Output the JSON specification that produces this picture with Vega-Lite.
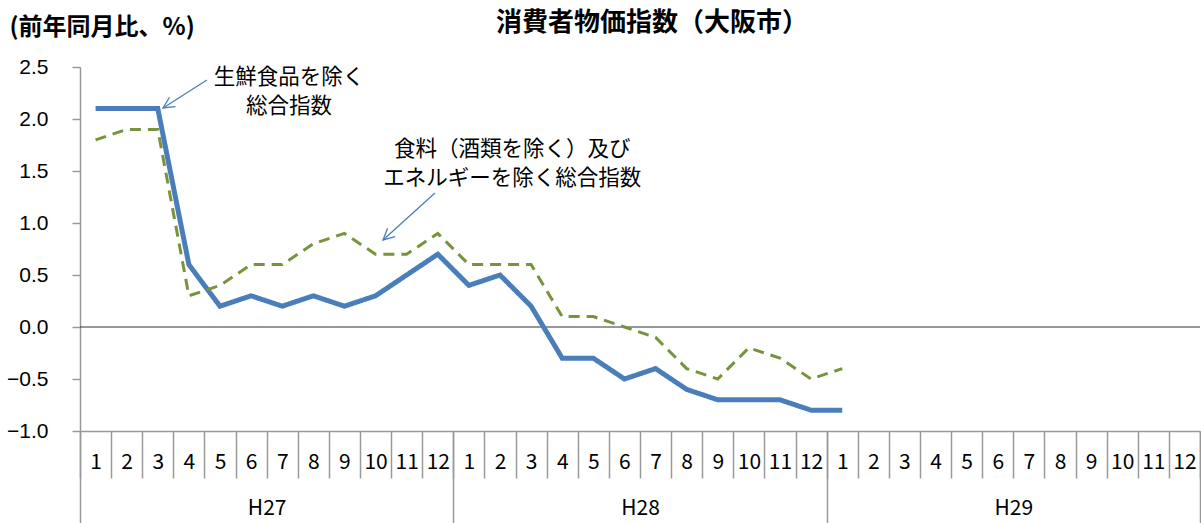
{
  "$schema": "https://vega.github.io/schema/vega-lite/v6.json",
  "autosize": "none",
  "width": 1120,
  "height": 364,
  "padding": {"left": 80, "top": 67, "right": 1, "bottom": 92},
  "background": "white",
  "config": {"view": {"stroke": null}, "font": "Noto Sans CJK JP"},
  "title": {
    "text": "消費者物価指数（大阪市）",
    "font": "Noto Sans CJK JP",
    "fontSize": 26,
    "fontWeight": "bold",
    "color": "#000000",
    "anchor": "middle",
    "frame": "group",
    "dx": 12,
    "offset": -21
  },
  "datasets": {
    "cpi": [
      {"n": 1, "year": "H27", "month": 1, "series": "生鮮食品を除く総合指数", "v": 2.1},
      {"n": 2, "year": "H27", "month": 2, "series": "生鮮食品を除く総合指数", "v": 2.1},
      {"n": 3, "year": "H27", "month": 3, "series": "生鮮食品を除く総合指数", "v": 2.1},
      {"n": 4, "year": "H27", "month": 4, "series": "生鮮食品を除く総合指数", "v": 0.6},
      {"n": 5, "year": "H27", "month": 5, "series": "生鮮食品を除く総合指数", "v": 0.2},
      {"n": 6, "year": "H27", "month": 6, "series": "生鮮食品を除く総合指数", "v": 0.3},
      {"n": 7, "year": "H27", "month": 7, "series": "生鮮食品を除く総合指数", "v": 0.2},
      {"n": 8, "year": "H27", "month": 8, "series": "生鮮食品を除く総合指数", "v": 0.3},
      {"n": 9, "year": "H27", "month": 9, "series": "生鮮食品を除く総合指数", "v": 0.2},
      {"n": 10, "year": "H27", "month": 10, "series": "生鮮食品を除く総合指数", "v": 0.3},
      {"n": 11, "year": "H27", "month": 11, "series": "生鮮食品を除く総合指数", "v": 0.5},
      {"n": 12, "year": "H27", "month": 12, "series": "生鮮食品を除く総合指数", "v": 0.7},
      {"n": 13, "year": "H28", "month": 1, "series": "生鮮食品を除く総合指数", "v": 0.4},
      {"n": 14, "year": "H28", "month": 2, "series": "生鮮食品を除く総合指数", "v": 0.5},
      {"n": 15, "year": "H28", "month": 3, "series": "生鮮食品を除く総合指数", "v": 0.2},
      {"n": 16, "year": "H28", "month": 4, "series": "生鮮食品を除く総合指数", "v": -0.3},
      {"n": 17, "year": "H28", "month": 5, "series": "生鮮食品を除く総合指数", "v": -0.3},
      {"n": 18, "year": "H28", "month": 6, "series": "生鮮食品を除く総合指数", "v": -0.5},
      {"n": 19, "year": "H28", "month": 7, "series": "生鮮食品を除く総合指数", "v": -0.4},
      {"n": 20, "year": "H28", "month": 8, "series": "生鮮食品を除く総合指数", "v": -0.6},
      {"n": 21, "year": "H28", "month": 9, "series": "生鮮食品を除く総合指数", "v": -0.7},
      {"n": 22, "year": "H28", "month": 10, "series": "生鮮食品を除く総合指数", "v": -0.7},
      {"n": 23, "year": "H28", "month": 11, "series": "生鮮食品を除く総合指数", "v": -0.7},
      {"n": 24, "year": "H28", "month": 12, "series": "生鮮食品を除く総合指数", "v": -0.8},
      {"n": 25, "year": "H29", "month": 1, "series": "生鮮食品を除く総合指数", "v": -0.8},
      {"n": 1, "year": "H27", "month": 1, "series": "食料（酒類を除く）及びエネルギーを除く総合指数", "v": 1.8},
      {"n": 2, "year": "H27", "month": 2, "series": "食料（酒類を除く）及びエネルギーを除く総合指数", "v": 1.9},
      {"n": 3, "year": "H27", "month": 3, "series": "食料（酒類を除く）及びエネルギーを除く総合指数", "v": 1.9},
      {"n": 4, "year": "H27", "month": 4, "series": "食料（酒類を除く）及びエネルギーを除く総合指数", "v": 0.3},
      {"n": 5, "year": "H27", "month": 5, "series": "食料（酒類を除く）及びエネルギーを除く総合指数", "v": 0.4},
      {"n": 6, "year": "H27", "month": 6, "series": "食料（酒類を除く）及びエネルギーを除く総合指数", "v": 0.6},
      {"n": 7, "year": "H27", "month": 7, "series": "食料（酒類を除く）及びエネルギーを除く総合指数", "v": 0.6},
      {"n": 8, "year": "H27", "month": 8, "series": "食料（酒類を除く）及びエネルギーを除く総合指数", "v": 0.8},
      {"n": 9, "year": "H27", "month": 9, "series": "食料（酒類を除く）及びエネルギーを除く総合指数", "v": 0.9},
      {"n": 10, "year": "H27", "month": 10, "series": "食料（酒類を除く）及びエネルギーを除く総合指数", "v": 0.7},
      {"n": 11, "year": "H27", "month": 11, "series": "食料（酒類を除く）及びエネルギーを除く総合指数", "v": 0.7},
      {"n": 12, "year": "H27", "month": 12, "series": "食料（酒類を除く）及びエネルギーを除く総合指数", "v": 0.9},
      {"n": 13, "year": "H28", "month": 1, "series": "食料（酒類を除く）及びエネルギーを除く総合指数", "v": 0.6},
      {"n": 14, "year": "H28", "month": 2, "series": "食料（酒類を除く）及びエネルギーを除く総合指数", "v": 0.6},
      {"n": 15, "year": "H28", "month": 3, "series": "食料（酒類を除く）及びエネルギーを除く総合指数", "v": 0.6},
      {"n": 16, "year": "H28", "month": 4, "series": "食料（酒類を除く）及びエネルギーを除く総合指数", "v": 0.1},
      {"n": 17, "year": "H28", "month": 5, "series": "食料（酒類を除く）及びエネルギーを除く総合指数", "v": 0.1},
      {"n": 18, "year": "H28", "month": 6, "series": "食料（酒類を除く）及びエネルギーを除く総合指数", "v": 0.0},
      {"n": 19, "year": "H28", "month": 7, "series": "食料（酒類を除く）及びエネルギーを除く総合指数", "v": -0.1},
      {"n": 20, "year": "H28", "month": 8, "series": "食料（酒類を除く）及びエネルギーを除く総合指数", "v": -0.4},
      {"n": 21, "year": "H28", "month": 9, "series": "食料（酒類を除く）及びエネルギーを除く総合指数", "v": -0.5},
      {"n": 22, "year": "H28", "month": 10, "series": "食料（酒類を除く）及びエネルギーを除く総合指数", "v": -0.2},
      {"n": 23, "year": "H28", "month": 11, "series": "食料（酒類を除く）及びエネルギーを除く総合指数", "v": -0.3},
      {"n": 24, "year": "H28", "month": 12, "series": "食料（酒類を除く）及びエネルギーを除く総合指数", "v": -0.5},
      {"n": 25, "year": "H29", "month": 1, "series": "食料（酒類を除く）及びエネルギーを除く総合指数", "v": -0.4}
    ],
    "notes": [
      {"n": 7.22, "v": 2.394, "label": ["生鮮食品を除く", "総合指数"]},
      {"n": 14.39, "v": 1.702, "label": ["食料（酒類を除く）及び", "エネルギーを除く総合指数"]}
    ],
    "arrows": [
      {"n1": 4.58, "v1": 2.375, "n2": 3.17, "v2": 2.106},
      {"n1": 11.91, "v1": 1.288, "n2": 10.24, "v2": 0.837}
    ]
  },
  "resolve": {"axis": {"x": "independent", "y": "independent"}},
  "layer": [
    {
      "data": {"values": [{"v": 0}]},
      "mark": {"type": "rule", "color": "#333333", "strokeWidth": 1},
      "encoding": {
        "y": {"field": "v", "type": "quantitative", "scale": {"domain": [-1, 2.5], "nice": false, "zero": false}, "axis": null}
      }
    },
    {
      "data": {"name": "cpi"},
      "mark": {"type": "line", "strokeCap": "butt", "strokeJoin": "miter"},
      "encoding": {
        "x": {
          "field": "n", "type": "quantitative",
          "scale": {"domain": [0.5, 36.5], "nice": false, "zero": false},
          "axis": {
            "orient": "bottom",
            "values": [0.5,1.5,2.5,3.5,4.5,5.5,6.5,7.5,8.5,9.5,10.5,11.5,12.5,13.5,14.5,15.5,16.5,17.5,18.5,19.5,20.5,21.5,22.5,23.5,24.5,25.5,26.5,27.5,28.5,29.5,30.5,31.5,32.5,33.5,34.5,35.5,36.5],
            "labelExpr": "datum.value > 36 ? '' : ((datum.value - 0.5) % 12) + 1",
            "title": null,
            "grid": false,
            "domain": true,
            "domainColor": "#999999",
            "domainWidth": 1.5,
            "ticks": true,
            "tickSize": 47,
            "tickColor": "#999999",
            "tickWidth": 1.5,
            "labelOffset": 15.56,
            "labelBaseline": "middle",
            "labelPadding": -16,
            "labelFlush": false,
            "labelOverlap": false,
            "labelBound": false,
            "labelFont": "Noto Sans CJK JP",
            "labelFontSize": 21,
            "labelColor": "#000000"
          }
        },
        "y": {
          "field": "v", "type": "quantitative",
          "scale": {"domain": [-1, 2.5], "nice": false, "zero": false},
          "axis": {
            "values": [-1, -0.5, 0, 0.5, 1, 1.5, 2, 2.5],
            "format": ".1f",
            "grid": false,
            "domainColor": "#999999",
            "domainWidth": 1.5,
            "tickColor": "#999999",
            "tickWidth": 1.5,
            "tickSize": 8,
            "labelPadding": 24,
            "labelFont": "Liberation Sans",
            "labelFontSize": 21,
            "labelColor": "#000000",
            "title": "(前年同月比、%)",
            "titleFont": "Noto Sans CJK JP",
            "titleFontSize": 24,
            "titleFontWeight": "bold",
            "titleColor": "#000000",
            "titleAngle": 0,
            "titleAlign": "left",
            "titleBaseline": "middle",
            "titleX": -71,
            "titleY": -40
          }
        },
        "detail": {"field": "series"},
        "color": {
          "field": "series", "type": "nominal", "legend": null,
          "scale": {"domain": ["生鮮食品を除く総合指数", "食料（酒類を除く）及びエネルギーを除く総合指数"], "range": ["#4A7EBB", "#77933C"]}
        },
        "strokeDash": {
          "field": "series", "type": "nominal", "legend": null,
          "scale": {"domain": ["生鮮食品を除く総合指数", "食料（酒類を除く）及びエネルギーを除く総合指数"], "range": [[1, 0], [11, 7]]}
        },
        "strokeWidth": {
          "field": "series", "type": "nominal", "legend": null,
          "scale": {"domain": ["生鮮食品を除く総合指数", "食料（酒類を除く）及びエネルギーを除く総合指数"], "range": [5, 3]}
        }
      }
    },
    {
      "data": {"name": "notes"},
      "mark": {"type": "text", "font": "Noto Sans CJK JP", "fontSize": 21.5, "color": "#000000", "align": "center", "baseline": "middle", "lineHeight": 29},
      "encoding": {
        "x": {
          "field": "n", "type": "quantitative",
          "scale": {"domain": [0.5, 36.5], "nice": false, "zero": false},
          "axis": {
            "orient": "bottom",
            "values": [0.5, 12.5, 24.5, 36.5],
            "labelExpr": "datum.value < 1 ? 'H27' : datum.value < 13 ? 'H28' : datum.value < 25 ? 'H29' : ''",
            "title": null,
            "grid": false,
            "domain": false,
            "ticks": true,
            "tickSize": 92,
            "tickColor": "#999999",
            "tickWidth": 1.5,
            "labelOffset": 186.67,
            "labelBaseline": "middle",
            "labelPadding": -15,
            "labelFlush": false,
            "labelOverlap": false,
            "labelBound": false,
            "labelFont": "Noto Sans CJK JP",
            "labelFontSize": 21,
            "labelColor": "#000000"
          }
        },
        "y": {"field": "v", "type": "quantitative", "scale": {"domain": [-1, 2.5], "nice": false, "zero": false}, "axis": null},
        "text": {"field": "label"}
      }
    },
    {
      "data": {"name": "arrows"},
      "mark": {"type": "rule", "color": "#4A7EBB", "strokeWidth": 1.3},
      "encoding": {
        "x": {"field": "n1", "type": "quantitative", "scale": {"domain": [0.5, 36.5], "nice": false, "zero": false}, "axis": null},
        "x2": {"field": "n2"},
        "y": {"field": "v1", "type": "quantitative", "scale": {"domain": [-1, 2.5], "nice": false, "zero": false}, "axis": null},
        "y2": {"field": "v2"}
      }
    },
    {
      "data": {"name": "arrows"},
      "transform": [{"filter": "datum.n1 < 6"}],
      "mark": {"type": "point", "shape": "M-0.5,1L0,0L0.5,1", "filled": false, "stroke": "#4A7EBB", "strokeWidth": 1.3, "size": 500, "angle": 237.5, "opacity": 1},
      "encoding": {
        "x": {"field": "n2", "type": "quantitative", "scale": {"domain": [0.5, 36.5], "nice": false, "zero": false}, "axis": null},
        "y": {"field": "v2", "type": "quantitative", "scale": {"domain": [-1, 2.5], "nice": false, "zero": false}, "axis": null}
      }
    },
    {
      "data": {"name": "arrows"},
      "transform": [{"filter": "datum.n1 > 6"}],
      "mark": {"type": "point", "shape": "M-0.5,1L0,0L0.5,1", "filled": false, "stroke": "#4A7EBB", "strokeWidth": 1.3, "size": 500, "angle": 228, "opacity": 1},
      "encoding": {
        "x": {"field": "n2", "type": "quantitative", "scale": {"domain": [0.5, 36.5], "nice": false, "zero": false}, "axis": null},
        "y": {"field": "v2", "type": "quantitative", "scale": {"domain": [-1, 2.5], "nice": false, "zero": false}, "axis": null}
      }
    }
  ]
}
